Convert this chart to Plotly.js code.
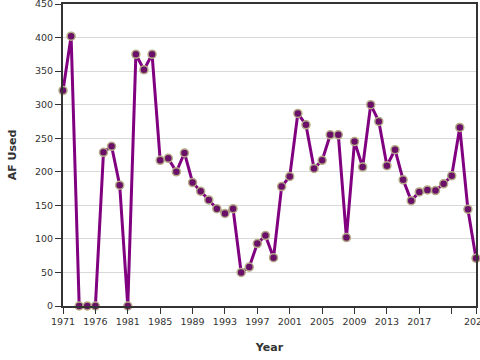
<!DOCTYPE html>
<html>
<head>
<meta charset="utf-8">
<script src="https://cdn.plot.ly/plotly-3.0.1.min.js"></script>
<style>html,body{margin:0;padding:0;background:#fff;}#chart{width:480px;height:360px;}</style>
</head>
<body>
<div id="chart"></div>
<script>
const years = ['1971','1972','1973','1975','1976','1977','1978','1979','1981','1982','1983','1984','1985','1986','1987','1988','1989','1990','1991','1992','1993','1994','1995','1996','1997','1998','1999','2000','2001','2002','2003','2004','2005','2006','2007','2008','2009','2010','2011','2012','2013','2014','2015','2016','2017','2018','2019','2020','2021','2022','2023','2024'];
const afUsed = [321,402,0,0,0,229,238,180,0,375,352,375,217,220,200,228,184,171,158,145,138,145,50,58,93,105,72,178,193,287,270,205,217,255,255,102,245,207,300,275,209,233,188,157,170,173,172,182,194,266,144,71];
const tickYears = ['1971','1976','1981','1985','1989','1993','1997','2001','2005','2009','2013','2017','2021','2024'];
const tickLabels = ['1971','1976','1981','1985','1989','1993','1997','2001','2005','2009','2013','2017','','2024'];
const yTicks = [0,50,100,150,200,250,300,350,400,450];

const trace = {
  x: years, y: afUsed, type: 'scatter', mode: 'lines+markers',
  line: {color: '#800080', width: 3},
  marker: {color: '#6a1068', size: 8, line: {color: '#b3aa86', width: 1.5}},
  cliponaxis: false, hoverinfo: 'none'
};
const font = {family: 'DejaVu Sans, Verdana, sans-serif', size: 9.5, color: '#333'};
const titleFont = {family: 'DejaVu Sans, Verdana, sans-serif', size: 11, color: '#333', weight: 'bold'};
const layout = {
  width: 480, height: 360,
  margin: {l: 63, r: 4, t: 4, b: 54},
  paper_bgcolor: '#fff', plot_bgcolor: '#fff',
  showlegend: false,
  font: font,
  xaxis: {
    type: 'category', range: [0, years.length - 1],
    tickmode: 'array', tickvals: tickYears, ticktext: tickLabels,
    ticks: 'outside', ticklen: 6, tickwidth: 1, tickcolor: '#333',
    showline: true, linecolor: '#333', linewidth: 2, mirror: true,
    showgrid: false, zeroline: false, ticklabeloverflow: 'allow',
    tickfont: font,
    title: {text: 'Year', font: titleFont, standoff: 17}
  },
  yaxis: {
    range: [0, 450], tickmode: 'array', tickvals: yTicks,
    ticks: 'outside', ticklen: 6, tickwidth: 1, tickcolor: '#333',
    showline: true, linecolor: '#333', linewidth: 2, mirror: true,
    showgrid: true, gridcolor: '#d9d9d9', gridwidth: 1, zeroline: false,
    ticklabeloverflow: 'allow',
    tickfont: font,
    title: {text: 'AF Used', font: titleFont, standoff: 16}
  }
};
Plotly.newPlot('chart', [trace], layout, {staticPlot: true, displayModeBar: false});
</script>
</body>
</html>
